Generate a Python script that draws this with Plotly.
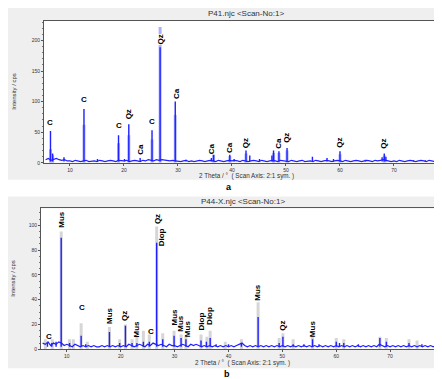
import plotly.graph_objects as go

W, H = 442, 379

# ---------------- shared ----------------
x_ticks = [10, 20, 30, 40, 50, 60, 70]
x_title = "2 Theta / \u00b0  ( Scan Axis: 2:1 sym. )"
y_title = "Intensity / cps"

# ---------------- panel a : P41 ----------------
a_title = "P41.njc <Scan-No:1>"
a_scan_start = 5.5
a_scan_step = 0.5
a_baseline = [5, 7, 4, 6, 7, 5, 4, 5, 3,
              3, 2, 4, 3, 2, 3, 4, 2, 3, 3, 2, 4, 3, 2, 3, 4, 3, 2, 4, 3,
              3, 4, 2, 3, 4, 3, 2, 4, 3, 5, 4, 3, 5, 4, 5, 4, 4, 3, 4, 3,
              3, 2, 3, 4, 2, 3, 2, 3, 4, 3, 2, 3, 4, 3, 2, 4, 3, 2, 3, 4,
              3, 4, 3, 2, 4, 3, 2, 3, 4, 3, 2, 4, 3, 2, 3, 4, 3, 2, 4, 3,
              3, 2, 4, 3, 2, 3, 4, 2, 3, 3, 2, 4, 3, 2, 3, 4, 3, 2, 3, 4,
              3, 2, 4, 3, 2, 3, 4, 3, 2, 3, 4, 3, 2, 4, 3, 4, 5, 4, 3, 2,
              3, 2, 4, 3, 2, 3, 4, 3, 2, 3, 4, 3, 2, 4, 3, 2, 3, 4, 3, 2]
a_peak_pos = [6.4, 6.8, 8.9, 12.6, 15.1, 19.0, 20.1, 20.9, 23.0, 25.2, 26.7, 29.5,
              31.5, 36.2, 36.6, 39.6, 40.4, 42.6, 43.3, 45.1, 47.4, 47.7, 48.7,
              50.2, 54.9, 57.6, 58.8, 60.0, 64.7, 67.8, 68.2, 68.5, 73.6, 75.8]
a_peak_cps = [52, 15, 9, 88, 6, 45, 6, 63, 8, 53, 189, 100,
              5, 8, 19, 13, 6, 20, 12, 6, 12, 20, 19,
              24, 10, 8, 6, 19, 5, 9, 15, 10, 4, 4]
a_ref_pos = [6.4, 6.8, 12.6, 19.0, 20.9, 25.2, 26.7, 29.5, 36.6, 39.6, 42.6,
             47.7, 48.7, 50.2, 60.0, 68.2]
a_ref_cps = [22, 12, 62, 32, 45, 38, 222, 78, 15, 11, 15, 16, 16, 20, 14, 12]
a_label_text = ["C", "C", "C", "Qz", "Ca", "C", "Qz", "Ca", "Ca", "Ca", "Qz",
                "Ca", "Qz", "Qz", "Qz"]
a_label_pos = [6.4, 12.6, 19.0, 20.9, 23.0, 25.2, 26.7, 29.6, 36.1, 39.5, 42.5,
               48.6, 50.2, 60.0, 68.1]
a_label_cps = [57, 94, 52, 69, 11, 58, 192, 103, 13, 14, 23, 21, 31, 23, 21]
a_yticks = [0, 50, 100, 150, 200]

# ---------------- panel b : P44-X ----------------
b_title = "P44-X.njc <Scan-No:1>"
b_scan_start = 5.5
b_scan_step = 0.5
b_baseline = [5, 4, 6, 3, 5, 4, 6, 5, 3,
              4, 3, 2, 4, 3, 2, 3, 2, 3, 2, 3, 2, 2, 3, 2, 3, 2, 3, 2, 3,
              2, 3, 2, 4, 3, 2, 3, 4, 3, 2, 4, 3, 5, 4, 3, 4, 3, 2, 4, 3,
              3, 2, 3, 4, 3, 2, 4, 3, 4, 3, 2, 3, 2, 3, 2, 3, 2, 3, 2, 3,
              2, 3, 2, 3, 4, 5, 3, 2, 3, 2, 3, 2, 3, 2, 3, 2, 3, 2, 3, 2,
              3, 2, 3, 2, 3, 2, 3, 2, 3, 2, 3, 2, 3, 2, 3, 2, 3, 2, 3, 2,
              3, 2, 3, 2, 3, 2, 3, 2, 3, 2, 3, 2, 3, 2, 3, 2, 4, 3, 2, 3,
              2, 3, 2, 3, 2, 3, 2, 3, 2, 3, 2, 3, 2, 3, 2, 3, 2, 3, 2, 3]
b_peak_pos = [6.4, 7.2, 8.0, 8.95, 10.5, 12.65, 13.5, 17.9, 19.8, 20.87, 22.1,
              23.0, 24.2, 25.3, 26.67, 27.8, 29.9, 31.2, 32.1, 34.9, 35.9, 36.6,
              37.7, 40.0, 42.4, 45.5, 49.4, 50.1, 52.0, 54.0, 55.6, 56.8, 60.0,
              60.6, 61.4, 64.1, 68.1, 69.3, 73.5, 75.9]
b_peak_cps = [5, 5, 6, 90, 5, 11, 4, 14, 5, 19, 5,
              5, 6, 6, 86, 8, 11, 9, 8, 7, 6, 9,
              4, 4, 5, 26, 5, 10, 4, 4, 8, 4, 6,
              5, 5, 4, 9, 6, 5, 4]
b_ref_pos = [6.0, 7.3, 8.95, 10.5, 11.2, 12.65, 13.8, 17.9, 19.8, 20.87, 22.1,
             23.0, 24.2, 25.3, 26.67, 27.8, 29.9, 31.2, 32.1, 34.9, 36.0, 36.6,
             39.4, 42.4, 45.5, 49.4, 50.1, 52.0, 55.6, 60.0, 61.4, 68.1, 69.3,
             73.5, 75.0]
b_ref_cps = [8, 8, 95, 8, 8, 21, 6, 18, 8, 20, 8,
             11, 15, 12, 99, 13, 15, 12, 10, 12, 10, 15,
             6, 8, 38, 9, 13, 8, 12, 9, 8, 10, 9, 8, 7]
b_label_text = ["C", "Mus", "C", "Mus", "Qz", "Mus", "C", "Qz", "Diop", "Mus",
                "Mus", "Mus", "Diop", "Diop", "Mus", "Qz", "Mus"]
b_label_pos = [6.7, 8.95, 12.8, 18.0, 20.8, 23.0, 25.6, 26.7, 27.6, 29.9,
               31.2, 32.4, 35.0, 36.6, 45.5, 50.1, 55.6]
b_label_cps = [6, 97, 29, 20, 22, 9, 10, 100, 82, 18, 13, 9, 14, 19, 38, 14, 9]
b_yticks = [0, 20, 40, 60, 80, 100]

# ---------------- layout geometry (pixels) ----------------
def px(x):
    return x / W

def py(y):
    return 1 - y / H

panels = [
    dict(xa="x", ya="y", title=a_title, start=a_scan_start, step=a_scan_step,
         base=a_baseline, ppos=a_peak_pos, pcps=a_peak_cps,
         rpos=a_ref_pos, rcps=a_ref_cps, ref_color="#aab2ff",
         ltext=a_label_text, lpos=a_label_pos, lcps=a_label_cps,
         yticks=a_yticks, yrange=[0, 232], minor=10,
         box=(36, 13, 440, 156), gray=(0, 173), title_y=6,
         ytitle_x=6, xtitle_y=169.5, letter="a", letter_xy=(221, 180)),
    dict(xa="x2", ya="y2", title=b_title, start=b_scan_start, step=b_scan_step,
         base=b_baseline, ppos=b_peak_pos, pcps=b_peak_cps,
         rpos=b_ref_pos, rcps=b_ref_cps, ref_color="#d6d6d6",
         ltext=b_label_text, lpos=b_label_pos, lcps=b_label_cps,
         yticks=b_yticks, yrange=[0, 113.6], minor=5,
         box=(33, 202, 436, 344), gray=(190, 363), title_y=195,
         ytitle_x=5, xtitle_y=358, letter="b", letter_xy=(219, 368.5)),
]

fig = go.Figure()
shapes = []
annotations = []
blue = "#1f1fff"
font_fam = "Liberation Sans, Arial, sans-serif"

for i, p in enumerate(panels):
    # reference sticks (light)
    sx, sy = [], []
    for pos, c in zip(p["rpos"], p["rcps"]):
        sx += [pos, pos, None]
        sy += [0, c, None]
    fig.add_trace(go.Scatter(x=sx, y=sy, mode="lines", xaxis=p["xa"], yaxis=p["ya"],
                             line=dict(color=p["ref_color"], width=3),
                             hoverinfo="skip", showlegend=False))
    # noisy baseline of the scan
    fig.add_trace(go.Scatter(y=p["base"], x0=p["start"], dx=p["step"], mode="lines",
                             xaxis=p["xa"], yaxis=p["ya"],
                             line=dict(color=blue, width=1.2),
                             showlegend=False))
    # peaks
    kx, ky = [], []
    for pos, c in zip(p["ppos"], p["pcps"]):
        kx += [pos, pos, None]
        ky += [2, c, None]
    fig.add_trace(go.Scatter(x=kx, y=ky, mode="lines", xaxis=p["xa"], yaxis=p["ya"],
                             line=dict(color=blue, width=1.4),
                             showlegend=False))

    x0, y0, x1, y1 = p["box"]
    g0, g1 = p["gray"]
    shapes.append(dict(type="rect", xref="paper", yref="paper", x0=0, x1=1,
                       y0=py(g1), y1=py(g0), fillcolor="#efefef",
                       line=dict(width=0), layer="below"))
    shapes.append(dict(type="rect", xref="paper", yref="paper", x0=px(x0), x1=px(x1),
                       y0=py(y1), y1=py(y0), fillcolor="white",
                       line=dict(width=0), layer="below"))

    axx = "xaxis" if i == 0 else "xaxis2"
    axy = "yaxis" if i == 0 else "yaxis2"
    fig.update_layout(**{
        axx: dict(domain=[px(x0), px(x1)], range=[5.2, 80], anchor=p["ya"],
                  tickvals=x_ticks, ticks="outside", ticklen=2, tickcolor="#555",
                  tickfont=dict(size=5, color="#333", family=font_fam),
                  showline=True, linecolor="#555", linewidth=1, mirror=True,
                  showgrid=False, zeroline=False),
        axy: dict(domain=[py(y1), py(y0)], range=p["yrange"], anchor=p["xa"],
                  tickvals=p["yticks"], ticks="outside", ticklen=2, tickcolor="#555",
                  minor=dict(dtick=p["minor"], ticks="outside", ticklen=1,
                             tickcolor="#777"),
                  tickfont=dict(size=5, color="#333", family=font_fam),
                  showline=True, linecolor="#555", linewidth=1, mirror=True,
                  showgrid=False, zeroline=False),
    })

    # panel title
    annotations.append(dict(text=p["title"], xref="paper", yref="paper",
                            x=px((x0 + x1) / 2), y=py(p["title_y"]),
                            showarrow=False, xanchor="center", yanchor="middle",
                            font=dict(size=8, color="#333", family=font_fam)))
    # axis titles
    annotations.append(dict(text=x_title, xref="paper", yref="paper",
                            x=px((x0 + x1) / 2), y=py(p["xtitle_y"]),
                            showarrow=False, xanchor="center", yanchor="middle",
                            borderpad=0,
                            font=dict(size=6.3, color="#333", family=font_fam)))
    annotations.append(dict(text=y_title, xref="paper", yref="paper",
                            x=px(p["ytitle_x"]), y=py((y0 + y1) / 2), textangle=-90,
                            showarrow=False, xanchor="center", yanchor="middle",
                            font=dict(size=6, color="#333", family=font_fam)))
    # a / b letter
    lx, ly = p["letter_xy"]
    annotations.append(dict(text="<b>%s</b>" % p["letter"], xref="paper", yref="paper",
                            x=px(lx), y=py(ly), showarrow=False,
                            xanchor="center", yanchor="middle", borderpad=0,
                            font=dict(size=9, color="black", family=font_fam)))
    # phase labels
    for t, pos, c in zip(p["ltext"], p["lpos"], p["lcps"]):
        annotations.append(dict(text="<b>%s</b>" % t, xref=p["xa"], yref=p["ya"],
                                x=pos, y=c, showarrow=False,
                                textangle=0 if len(t) == 1 else -90,
                                xanchor="center", yanchor="bottom",
                                borderpad=0, bgcolor="white" if i == 0 else None,
                                font=dict(size=8, color="black", family=font_fam)))

fig.update_layout(width=W, height=H, margin=dict(l=0, r=0, t=0, b=0),
                  paper_bgcolor="white", plot_bgcolor="rgba(0,0,0,0)",
                  shapes=shapes, annotations=annotations, showlegend=False)

fig.write_html("out.html")
